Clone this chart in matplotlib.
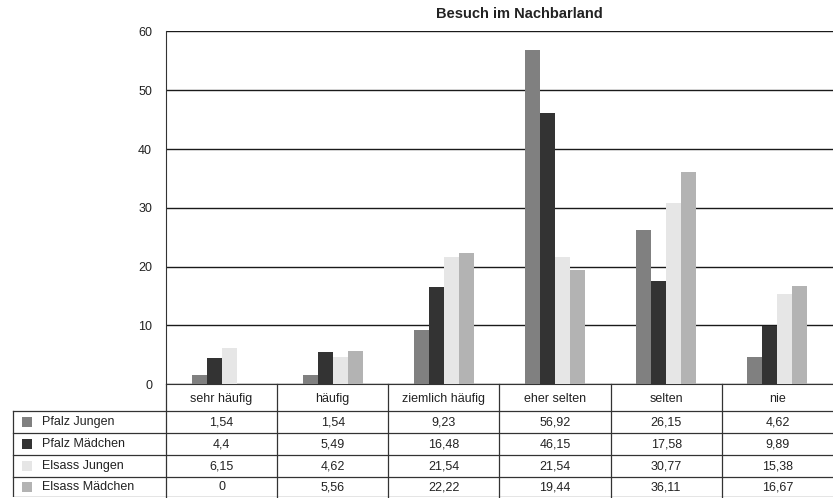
import numpy as np
import matplotlib
matplotlib.use('Agg')
import matplotlib.pyplot as plt
from matplotlib.patches import Rectangle

plt.rcParams['font.family'] = ['Liberation Sans', 'DejaVu Sans']

categories = ['sehr häufig', 'häufig', 'ziemlich häufig', 'eher selten', 'selten', 'nie']
series = ['Pfalz Jungen', 'Pfalz Mädchen', 'Elsass Jungen', 'Elsass Mädchen']
pfalz_jungen = [1.54, 1.54, 9.23, 56.92, 26.15, 4.62]
pfalz_maedchen = [4.4, 5.49, 16.48, 46.15, 17.58, 9.89]
elsass_jungen = [6.15, 4.62, 21.54, 21.54, 30.77, 15.38]
elsass_maedchen = [0, 5.56, 22.22, 19.44, 36.11, 16.67]
yticks = [0, 10, 20, 30, 40, 50, 60]

values = [pfalz_jungen, pfalz_maedchen, elsass_jungen, elsass_maedchen]
colors = ['#808080', '#333333', '#e6e6e6', '#b3b3b3']
title = 'Besuch im Nachbarland'

# layout in pixels (figure is 833 x 498)
W, H = 833, 498
plot_l, plot_r = 166, 833
plot_top, plot_bot = 31.5, 384
table_l = 13
row_edges = [0, 27, 49, 71, 93, 113]   # below the x axis
line_col = '#333333'
text_col = '#222222'

fig = plt.figure(figsize=(W / 100, H / 100), dpi=100)
ax = fig.add_axes([plot_l / W, (H - plot_bot) / H,
                   (plot_r - plot_l) / W, (plot_bot - plot_top) / H])

x = np.arange(len(categories))
bw = 0.135
for i, (vals, c) in enumerate(zip(values, colors)):
    ax.bar(x + (i - 1.5) * bw, vals, width=bw, color=c, zorder=3, linewidth=0)

ax.set_xlim(-0.5, len(categories) - 0.5)
ax.set_ylim(0, 60)
ax.set_yticks(yticks)
ax.set_yticklabels([str(t) for t in yticks], fontsize=9, color=text_col)
ax.tick_params(axis='y', length=0, pad=10)
ax.set_xticks([])
ax.yaxis.grid(True, color='#1a1a1a', linewidth=1.0)
ax.set_axisbelow(True)
for s in ['top', 'right']:
    ax.spines[s].set_visible(False)
ax.spines['left'].set_color(line_col)
ax.spines['bottom'].set_color(line_col)

fig.text(519 / W, 1 - 14 / H, title, ha='center', va='center',
         fontsize=10.5, fontweight='bold', color=text_col)

# data table below the axis
tax = fig.add_axes([0, (H - plot_bot - row_edges[-1]) / H, 1, row_edges[-1] / H])
tax.set_xlim(0, W)
tax.set_ylim(row_edges[-1], 0)
tax.axis('off')

col_w = (plot_r - plot_l) / len(categories)
col_edges = [plot_l + k * col_w for k in range(len(categories))]

for xe in col_edges:
    tax.plot([xe, xe], [0, row_edges[-1]], color=line_col, lw=0.9, clip_on=False)
tax.plot([table_l, table_l], [row_edges[1], row_edges[-1] - 0.5], color=line_col, lw=0.9)
for ye in row_edges[1:]:
    yy = min(ye, row_edges[-1] - 0.5)
    tax.plot([table_l, plot_r], [yy, yy], color=line_col, lw=0.9)

for k, cat in enumerate(categories):
    cx = plot_l + (k + 0.5) * col_w
    tax.text(cx, (row_edges[0] + row_edges[1]) / 2 + 1, cat, ha='center', va='center',
             fontsize=9, color=text_col)

for r, (name, vals, c) in enumerate(zip(series, values, colors)):
    cy = (row_edges[r + 1] + row_edges[r + 2]) / 2
    tax.add_patch(Rectangle((22, cy - 5), 10, 10, facecolor=c, edgecolor='none'))
    tax.text(42, cy, name, ha='left', va='center', fontsize=9, color=text_col)
    for k, v in enumerate(vals):
        cx = plot_l + (k + 0.5) * col_w
        tax.text(cx, cy, f'{v:g}'.replace('.', ','), ha='center', va='center',
                 fontsize=9, color=text_col)

fig.savefig('out.png', dpi=100)
